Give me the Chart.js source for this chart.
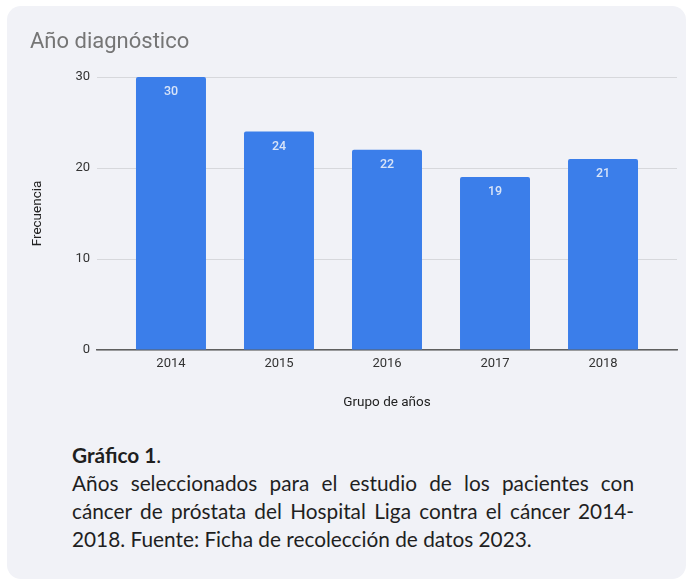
<!DOCTYPE html>
<html>
<head>
<meta charset="utf-8">
<script src="https://cdn.jsdelivr.net/npm/chart.js@4/dist/chart.umd.min.js"></script>
<style>
  html, body { margin: 0; padding: 0; background: #ffffff; width: 690px; height: 580px; overflow: hidden; }
  #panel { position: absolute; left: 7px; top: 6px; width: 679px; height: 573px; background: #f1f2f7; border-radius: 14px; }
  #wrap { position: absolute; left: 0; top: 0; width: 690px; height: 430px; }
  #caption { position: absolute; left: 72px; top: 441px; width: 562px; font-family: Lato, sans-serif; font-size: 20.8px; line-height: 28px; color: #1f1f1f; }
  #caption div { white-space: nowrap; }
  #caption .j { text-align: justify; text-align-last: justify; white-space: normal; }
  #caption b { font-weight: 700; }
</style>
</head>
<body>
<div id="panel"></div>
<div id="wrap"><canvas id="c" width="690" height="430"></canvas></div>
<div id="caption">
  <div><b>Gráfico 1</b>.</div>
  <div class="j">Años seleccionados para el estudio de los pacientes con</div>
  <div class="j">cáncer de próstata del Hospital Liga contra el cáncer 2014-</div>
  <div>2018. Fuente: Ficha de recolección de datos 2023.</div>
</div>
<script>
const years = [2014, 2015, 2016, 2017, 2018];
const frecuencia = [30, 24, 22, 19, 21];
const yTicks = [0, 10, 20, 30];
const chartTitle = 'Año diagnóstico';
const yTitle = 'Frecuencia';
const xTitle = 'Grupo de años';

const valueLabels = {
  id: 'valueLabels',
  afterDatasetsDraw(chart) {
    const ctx = chart.ctx;
    const meta = chart.getDatasetMeta(0);
    ctx.save();
    ctx.font = '500 12.5px Roboto';
    ctx.fillStyle = '#d8e4f8';
    ctx.textAlign = 'center';
    ctx.textBaseline = 'middle';
    meta.data.forEach((bar, i) => {
      ctx.fillText(String(frecuencia[i]), bar.x, bar.y + 15);
    });
    ctx.restore();
  }
};

new Chart(document.getElementById('c'), {
  type: 'bar',
  data: {
    datasets: [{
      data: years.map((y, i) => ({ x: y, y: frecuencia[i] })),
      backgroundColor: '#3b7eea',
      borderRadius: 2,
      borderSkipped: 'bottom',
      barPercentage: 0.648,
      categoryPercentage: 1
    }]
  },
  options: {
    responsive: false,
    animation: false,
    layout: { padding: { left: 30, right: 13, top: 29, bottom: 0 } },
    plugins: {
      legend: { display: false },
      tooltip: { enabled: false },
      title: {
        display: true,
        text: chartTitle,
        align: 'start',
        color: '#757575',
        font: { family: 'Roboto', size: 22, weight: 'normal' },
        padding: { top: 0, bottom: 21.6 }
      }
    },
    scales: {
      x: {
        type: 'linear',
        offset: false,
        min: 2013.315,
        max: 2018.685,
        afterBuildTicks: s => { s.ticks = years.map(v => ({ value: v })); },
        afterFit: s => { s.height = 80; },
        grid: { display: false, drawTicks: false },
        border: { display: true, color: '#5f5f5f', width: 1.5 },
        ticks: {
          padding: 6,
          color: '#333333',
          font: { family: 'Roboto', size: 13 },
          maxRotation: 0,
          callback: v => String(v)
        },
        title: {
          display: true,
          text: xTitle,
          color: '#222222',
          font: { family: 'Roboto', size: 13.5 },
          padding: { top: 0, bottom: 19 }
        }
      },
      y: {
        min: 0,
        max: 30,
        afterBuildTicks: s => { s.ticks = yTicks.map(v => ({ value: v })); },
        afterFit: s => { s.width = 67; },
        grid: { color: '#d7d8dc', lineWidth: 1, drawTicks: false },
        border: { display: false },
        ticks: {
          padding: 7,
          color: '#333333',
          font: { family: 'Roboto', size: 13 }
        },
        title: {
          display: true,
          text: yTitle,
          color: '#222222',
          font: { family: 'Roboto', size: 13.5 },
          padding: { top: 0, bottom: 0 }
        }
      }
    }
  },
  plugins: [valueLabels]
});
</script>
</body>
</html>
